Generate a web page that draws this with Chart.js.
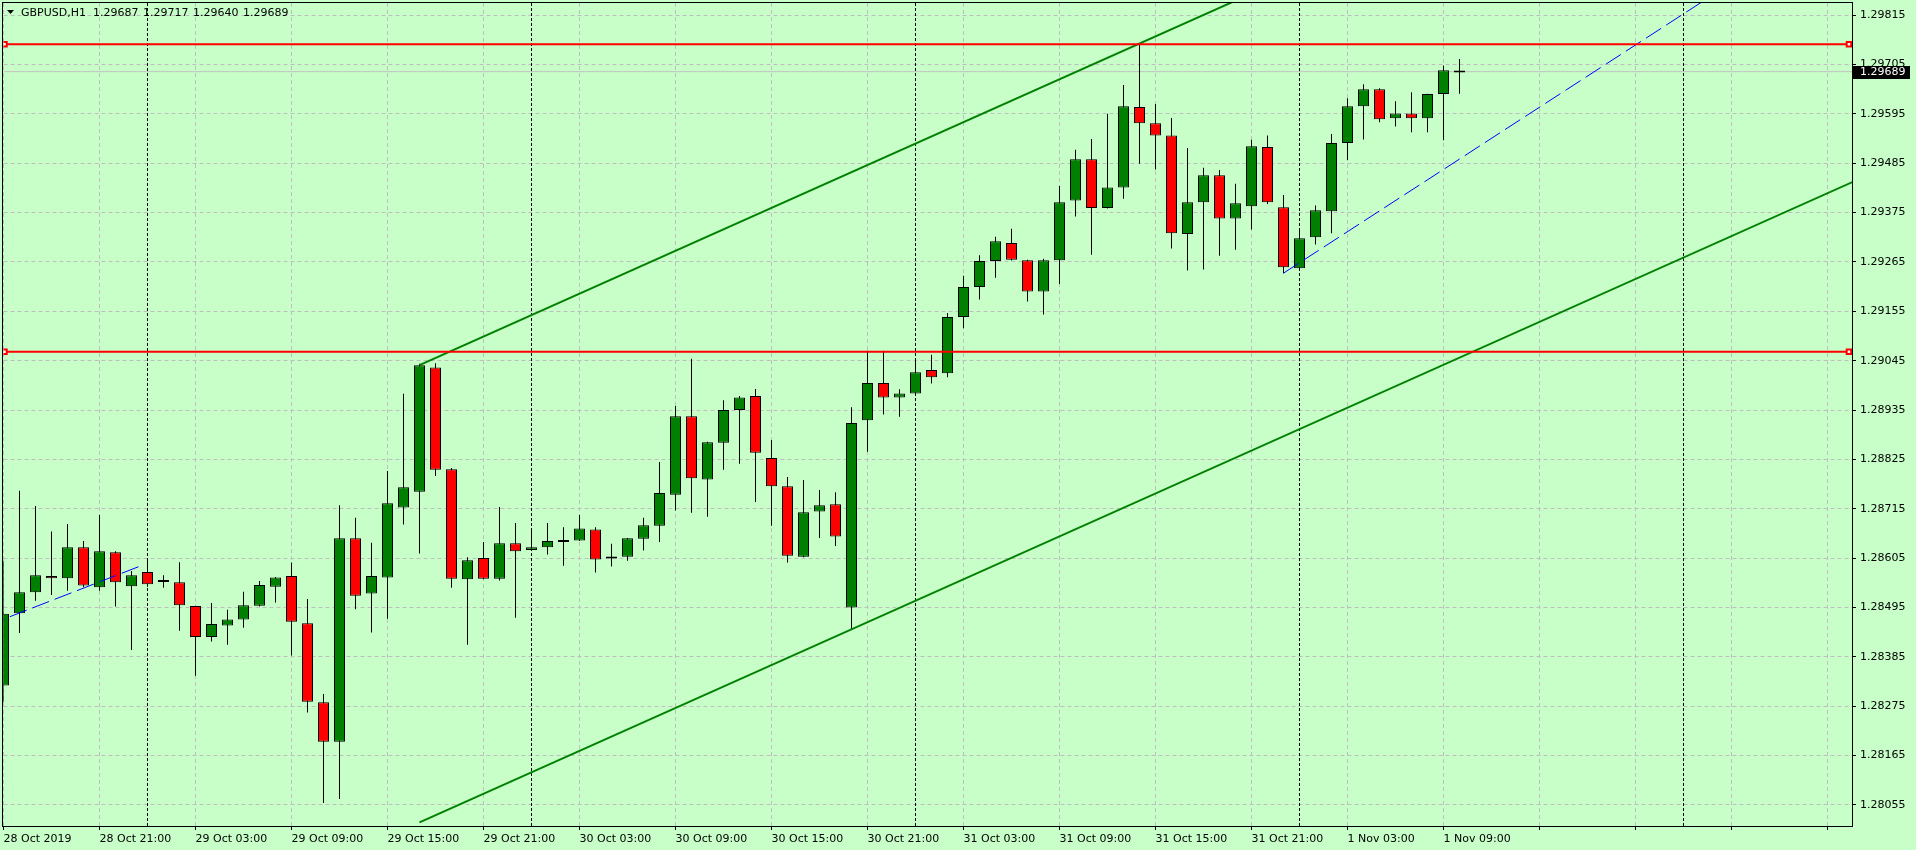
<!DOCTYPE html>
<html>
<head>
<meta charset="utf-8">
<script src="https://cdn.jsdelivr.net/npm/chart.js@4/dist/chart.umd.min.js"></script>
<style>
  html, body { margin: 0; padding: 0; background: #c8ffc8; overflow: hidden; }
  canvas { display: block; }
</style>
</head>
<body>
<canvas id="chartCanvas" width="1916" height="850"></canvas>
<script>
// GBPUSD H1, bars from 28 Oct 15:00 to 1 Nov 10:00
const symbol = 'GBPUSD,H1';
const opens = [
  1.28321, 1.28482, 1.28529, 1.28565, 1.28560, 1.28629, 1.28540, 1.28618, 1.28542, 1.28574,
  1.28552, 1.28551, 1.28498, 1.28429, 1.28455, 1.28468, 1.28499, 1.28541, 1.28565, 1.28460,
  1.28284, 1.28196, 1.28649, 1.28526, 1.28562, 1.28718, 1.28753, 1.29030, 1.28803, 1.28558,
  1.28605, 1.28559, 1.28638, 1.28623, 1.28629, 1.28641, 1.28644, 1.28669, 1.28604, 1.28608,
  1.28648, 1.28677, 1.28746, 1.28921, 1.28780, 1.28862, 1.28935, 1.28966, 1.28828, 1.28765,
  1.28608, 1.28709, 1.28725, 1.28495, 1.28912, 1.28995, 1.28963, 1.28972, 1.29024, 1.29017,
  1.29142, 1.29209, 1.29267, 1.29307, 1.29269, 1.29199, 1.29269, 1.29402, 1.29494, 1.29385,
  1.29431, 1.29610, 1.29574, 1.29547, 1.29327, 1.29398, 1.29458, 1.29362, 1.29389, 1.29521,
  1.29387, 1.29251, 1.29320, 1.29378, 1.29530, 1.29612, 1.29650, 1.29585, 1.29596, 1.29585,
  1.29639, 1.29687
];
const highs = [
  1.28599, 1.28755, 1.28721, 1.28664, 1.28681, 1.28643, 1.28701, 1.28620, 1.28576, 1.28601,
  1.28567, 1.28596, 1.28499, 1.28505, 1.28490, 1.28530, 1.28554, 1.28563, 1.28595, 1.28514,
  1.28302, 1.28723, 1.28695, 1.28639, 1.28799, 1.28971, 1.29038, 1.29039, 1.28806, 1.28607,
  1.28641, 1.28719, 1.28683, 1.28670, 1.28683, 1.28674, 1.28701, 1.28674, 1.28637, 1.28650,
  1.28695, 1.28819, 1.28944, 1.29049, 1.28864, 1.28957, 1.28966, 1.28982, 1.28868, 1.28786,
  1.28779, 1.28757, 1.28752, 1.28941, 1.29067, 1.29067, 1.28981, 1.29047, 1.29058, 1.29151,
  1.29234, 1.29280, 1.29321, 1.29339, 1.29270, 1.29272, 1.29434, 1.29515, 1.29539, 1.29595,
  1.29659, 1.29752, 1.29617, 1.29586, 1.29519, 1.29475, 1.29470, 1.29439, 1.29537, 1.29547,
  1.29414, 1.29336, 1.29391, 1.29550, 1.29630, 1.29661, 1.29652, 1.29623, 1.29643, 1.29640,
  1.29703, 1.29717
];
const lows = [
  1.28284, 1.28438, 1.28510, 1.28523, 1.28532, 1.28540, 1.28532, 1.28497, 1.28400, 1.28541,
  1.28539, 1.28443, 1.28343, 1.28419, 1.28412, 1.28450, 1.28497, 1.28506, 1.28388, 1.28261,
  1.28059, 1.28068, 1.28491, 1.28439, 1.28470, 1.28680, 1.28615, 1.28788, 1.28539, 1.28412,
  1.28558, 1.28555, 1.28472, 1.28622, 1.28613, 1.28588, 1.28643, 1.28573, 1.28586, 1.28599,
  1.28622, 1.28641, 1.28711, 1.28706, 1.28697, 1.28802, 1.28815, 1.28730, 1.28677, 1.28595,
  1.28607, 1.28650, 1.28632, 1.28446, 1.28842, 1.28925, 1.28920, 1.28971, 1.28994, 1.29008,
  1.29117, 1.29181, 1.29230, 1.29268, 1.29177, 1.29148, 1.29216, 1.29366, 1.29281, 1.29384,
  1.29406, 1.29484, 1.29471, 1.29295, 1.29246, 1.29248, 1.29279, 1.29292, 1.29337, 1.29394,
  1.29240, 1.29250, 1.29304, 1.29329, 1.29492, 1.29538, 1.29576, 1.29567, 1.29554, 1.29554,
  1.29536, 1.29640
];
const closes = [
  1.28481, 1.28529, 1.28567, 1.28560, 1.28629, 1.28544, 1.28620, 1.28551, 1.28567, 1.28547,
  1.28552, 1.28500, 1.28429, 1.28458, 1.28468, 1.28500, 1.28545, 1.28562, 1.28463, 1.28285,
  1.28196, 1.28649, 1.28521, 1.28565, 1.28727, 1.28763, 1.29035, 1.28802, 1.28559, 1.28600,
  1.28559, 1.28638, 1.28620, 1.28629, 1.28643, 1.28641, 1.28671, 1.28602, 1.28604, 1.28649,
  1.28678, 1.28750, 1.28921, 1.28783, 1.28863, 1.28935, 1.28963, 1.28840, 1.28765, 1.28610,
  1.28707, 1.28723, 1.28653, 1.28906, 1.28995, 1.28963, 1.28972, 1.29019, 1.29008, 1.29142,
  1.29209, 1.29267, 1.29311, 1.29270, 1.29199, 1.29269, 1.29398, 1.29494, 1.29385, 1.29431,
  1.29612, 1.29574, 1.29547, 1.29329, 1.29398, 1.29458, 1.29362, 1.29396, 1.29523, 1.29398,
  1.29253, 1.29318, 1.29380, 1.29530, 1.29612, 1.29650, 1.29583, 1.29596, 1.29585, 1.29639,
  1.29692, 1.29689
];

const timeLabels = [
  '28 Oct 2019', '28 Oct 21:00', '29 Oct 03:00', '29 Oct 09:00', '29 Oct 15:00', '29 Oct 21:00',
  '30 Oct 03:00', '30 Oct 09:00', '30 Oct 15:00', '30 Oct 21:00', '31 Oct 03:00', '31 Oct 09:00',
  '31 Oct 15:00', '31 Oct 21:00', '1 Nov 03:00', '1 Nov 09:00'
];
const labelStep = 6;            // one time label every 6 bars
const separatorBars = [9, 33, 57, 81, 105];   // midnights
const priceTicks = [
  1.28055, 1.28165, 1.28275, 1.28385, 1.28495, 1.28605, 1.28715, 1.28825, 1.28935,
  1.29045, 1.29155, 1.29265, 1.29375, 1.29485, 1.29595, 1.29705, 1.29815
];

// chart objects (bar index, price)
const levelPrices = [1.29750, 1.29065];
const levelMarkerBars = [0.06, 115.34];
const bidPrice = 1.29689;
const channelUpper = [[26, 1.29035], [80, 1.29895]];
const channelLower = [[26, 1.28016], [116, 1.29450]];
const trendLeft = [[-1, 1.28455], [8.6, 1.28588]];
const trendRight = [[80, 1.29240], [107, 1.29864]];

const xMin = 0, xMax = 115.53125;
const yMin = 1.28008, yMax = 1.29842;

const BG = '#c8ffc8';
const FONT = '"DejaVu Sans", sans-serif';

const bars = opens.map((o, i) => i);
const bodyData = bars.map(i => ({ x: i, y: [opens[i], closes[i]] }));
const wickData = bars.map(i => ({ x: i, y: [lows[i], highs[i]] }));
const bodyColors = bars.map(i => closes[i] >= opens[i] ? '#008000' : '#ff0000');

const toPts = seg => seg.map(p => ({ x: p[0], y: p[1] }));

function levelDataset(price) {
    return {
        type: 'line',
        data: [
            { x: xMin, y: price },
            { x: levelMarkerBars[0], y: price },
            { x: levelMarkerBars[1], y: price },
            { x: xMax, y: price }
        ],
        borderColor: '#ff0000',
        borderWidth: 2,
        pointRadius: [0, 3.2, 3.2, 0],
        pointStyle: 'rect',
        pointBackgroundColor: '#ffffff',
        pointBorderColor: '#ff0000',
        pointBorderWidth: 2,
        clip: 0,
        order: 0
    };
}

function trendDataset(seg, color, width, dash, order) {
    return {
        type: 'line',
        data: toPts(seg),
        borderColor: color,
        borderWidth: width,
        borderDash: dash || [],
        pointRadius: 0,
        clip: 0,
        order: order || 0
    };
}

const mtPlugin = {
    id: 'mt4',
    beforeDraw(chart) {
        const ctx = chart.ctx;
        ctx.save();
        ctx.fillStyle = BG;
        ctx.fillRect(0, 0, chart.width, chart.height);
        ctx.restore();
    },
    beforeDatasetsDraw(chart) {
        const { ctx, chartArea, scales: { x } } = chart;
        ctx.save();
        ctx.strokeStyle = '#000000';
        ctx.lineWidth = 1;
        ctx.setLineDash([3, 2]);
        separatorBars.forEach(b => {
            const px = Math.round(x.getPixelForValue(b) - 0.5) + 0.5;
            ctx.beginPath();
            ctx.moveTo(px, chartArea.top);
            ctx.lineTo(px, chartArea.bottom);
            ctx.stroke();
        });
        ctx.restore();
    },
    afterDraw(chart) {
        const { ctx, chartArea, scales: { y } } = chart;
        ctx.save();
        // frame
        ctx.strokeStyle = '#000000';
        ctx.lineWidth = 1;
        ctx.strokeRect(2.5, 2.5, chartArea.right - 2, chartArea.bottom - 2);

        // header
        ctx.fillStyle = '#000000';
        ctx.beginPath();
        ctx.moveTo(7, 10);
        ctx.lineTo(14, 10);
        ctx.lineTo(10.5, 14);
        ctx.closePath();
        ctx.fill();
        ctx.font = '11px ' + FONT;
        ctx.textBaseline = 'middle';
        const last = opens.length - 1;
        ctx.fillText(symbol, 21, 13);
        [opens[last], highs[last], lows[last], closes[last]].forEach((v, i) => {
            ctx.fillText(v.toFixed(5), 93 + i * 50, 13);
        });

        // bid price label
        const by = Math.round(y.getPixelForValue(bidPrice));
        ctx.fillStyle = '#000000';
        ctx.fillRect(chartArea.right + 1, by - 6, 57, 13);
        ctx.fillStyle = '#ffffff';
        ctx.fillText(bidPrice.toFixed(5), chartArea.right + 8, by + 0.5);
        ctx.restore();
    }
};

const chart = new Chart(document.getElementById('chartCanvas'), {
    type: 'bar',
    data: {
        datasets: [
            {
                data: bodyData,
                backgroundColor: bodyColors,
                borderColor: '#000000',
                borderWidth: 1,
                borderSkipped: false,
                barThickness: 11,
                minBarLength: 2,
                inflateAmount: 0,
                grouped: false,
                clip: 0,
                order: 1
            },
            {
                data: wickData,
                backgroundColor: '#000000',
                borderWidth: 0,
                barThickness: 1,
                inflateAmount: 0,
                grouped: false,
                clip: 0,
                order: 2
            },
            trendDataset([[xMin, bidPrice], [xMax, bidPrice]], '#c0c0c0', 1, [], 3),
            levelDataset(levelPrices[0]),
            levelDataset(levelPrices[1]),
            trendDataset(channelUpper, '#008000', 2),
            trendDataset(channelLower, '#008000', 2),
            trendDataset(trendLeft, '#0000ff', 1, [18, 6]),
            trendDataset(trendRight, '#0000ff', 1, [18, 6])
        ]
    },
    options: {
        responsive: false,
        devicePixelRatio: 1,
        animation: false,
        events: [],
        layout: { padding: { left: 3.5, top: 3, right: 0, bottom: 0 } },
        plugins: {
            legend: { display: false },
            tooltip: { enabled: false }
        },
        scales: {
            x: {
                type: 'linear',
                min: xMin,
                max: xMax,
                offset: false,
                grid: {
                    offset: false,
                    color: '#bebebe',
                    lineWidth: 1,
                    tickLength: 4,
                    tickColor: '#000000'
                },
                border: { display: false, dash: [4, 3] },
                ticks: {
                    autoSkip: false,
                    maxRotation: 0,
                    minRotation: 0,
                    align: 'start',
                    padding: 3,
                    color: '#000000',
                    font: { family: FONT, size: 11 },
                    callback: (value, index) => timeLabels[index] || ''
                },
                afterBuildTicks: axis => {
                    const t = [];
                    for (let v = 0; v <= xMax; v += labelStep) t.push({ value: v });
                    axis.ticks = t;
                },
                afterFit: axis => {
                    axis.height = 24;
                    axis.paddingLeft = 0;
                    axis.paddingRight = 0;
                }
            },
            y: {
                type: 'linear',
                position: 'right',
                min: yMin,
                max: yMax,
                beginAtZero: false,
                grid: {
                    color: '#bebebe',
                    lineWidth: 1,
                    tickLength: 4,
                    tickColor: '#000000'
                },
                border: { display: false, dash: [4, 3] },
                ticks: {
                    autoSkip: false,
                    padding: 4,
                    color: '#000000',
                    font: { family: FONT, size: 11 },
                    callback: value => Number(value).toFixed(5)
                },
                afterBuildTicks: axis => {
                    axis.ticks = priceTicks.map(v => ({ value: v }));
                },
                afterFit: axis => {
                    axis.width = 64;
                    axis.paddingTop = 0;
                    axis.paddingBottom = 0;
                }
            }
        }
    },
    plugins: [mtPlugin]
});
</script>
</body>
</html>
